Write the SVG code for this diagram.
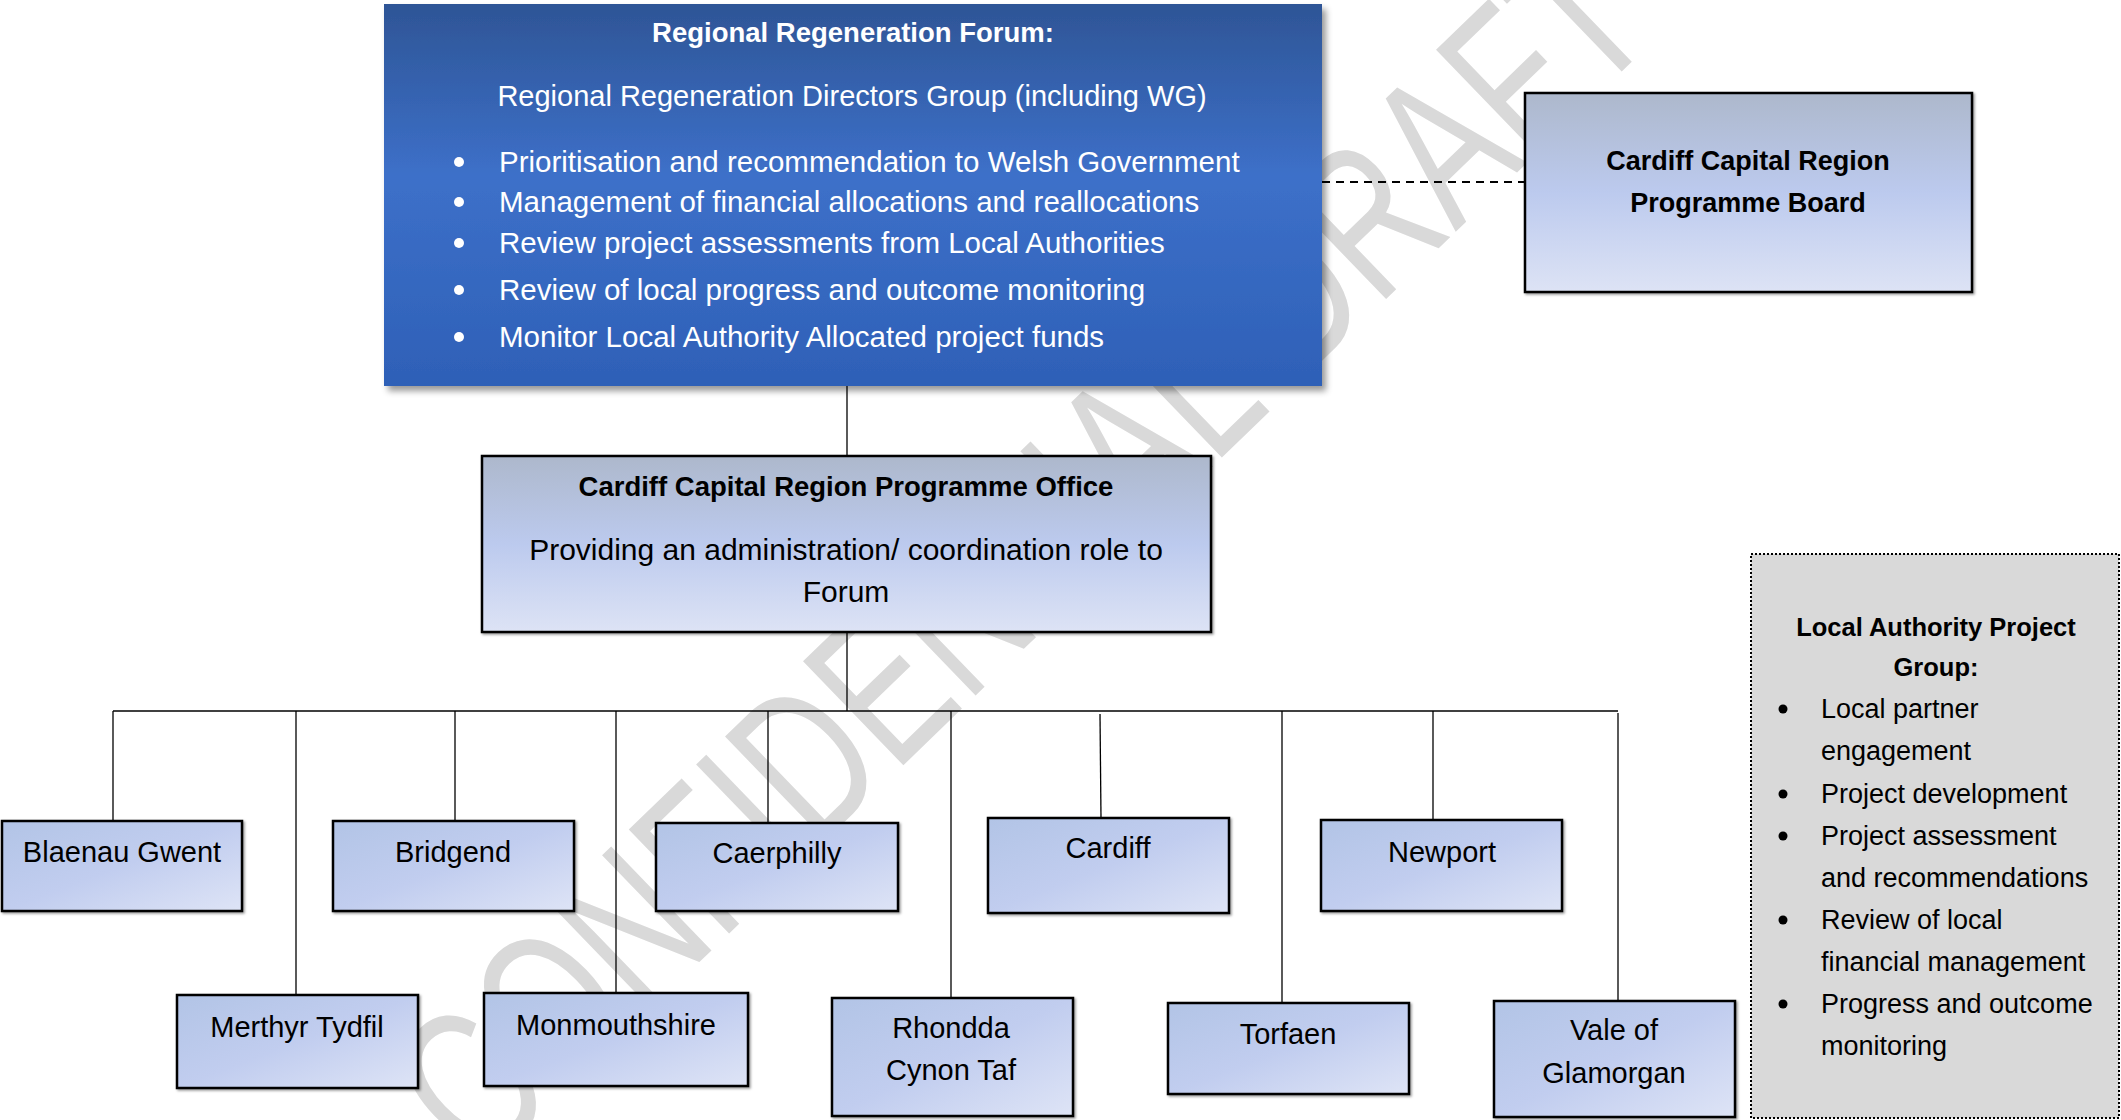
<svg xmlns="http://www.w3.org/2000/svg" width="2121" height="1120" viewBox="0 0 2121 1120">
<defs>
<linearGradient id="gBlue" x1="0" y1="0" x2="0" y2="1">
<stop offset="0" stop-color="#2e5596"/>
<stop offset="0.45" stop-color="#3d70c9"/>
<stop offset="1" stop-color="#2e60b7"/>
</linearGradient>
<linearGradient id="gHead" x1="0" y1="0" x2="0" y2="1">
<stop offset="0" stop-color="#adb8cc"/>
<stop offset="0.5" stop-color="#bccaee"/>
<stop offset="1" stop-color="#dde3f5"/>
</linearGradient>
<linearGradient id="gLeaf" x1="0" y1="0" x2="1" y2="1">
<stop offset="0" stop-color="#b2c4e6"/>
<stop offset="0.5" stop-color="#c1cdef"/>
<stop offset="1" stop-color="#dee4f6"/>
</linearGradient>
<filter id="sh" x="-5%" y="-5%" width="112%" height="115%">
<feDropShadow dx="4" dy="5" stdDeviation="3" flood-color="#000" flood-opacity="0.4"/>
</filter>
<filter id="sh2" x="-5%" y="-5%" width="110%" height="115%">
<feDropShadow dx="1.5" dy="1.5" stdDeviation="0.8" flood-color="#000" flood-opacity="0.4"/>
</filter>
</defs>
<style>
text { font-family: "Liberation Sans", Arial, sans-serif; }
.wm { fill: #d9d9d9; font-size: 210px; }
.box { stroke: #000; stroke-width: 2.5; }
.leaf { fill: url(#gLeaf); stroke: #000; stroke-width: 2.5; filter: url(#sh2); }
.head { fill: url(#gHead); stroke: #000; stroke-width: 2.5; filter: url(#sh2); }
.t29 { font-size: 29px; fill: #000; }
.c { text-anchor: middle; }
.w { fill: #fff; }
.b { font-weight: bold; }
.la { font-size: 27px; fill: #000; }
.lab { font-size: 25.5px; font-weight: bold; fill: #000; text-anchor: middle; }
.conn line { stroke: #000; stroke-width: 1.3; }
</style>

<text class="wm" x="480" y="1174" transform="rotate(-44 480 1174)" textLength="1640" lengthAdjust="spacingAndGlyphs">CONFIDENTIAL DRAFT</text>

<g id="connectors" class="conn">
<line x1="847" y1="386" x2="847" y2="456"/>
<line x1="1322" y1="182" x2="1525" y2="182" stroke-dasharray="8 6" style="stroke-width:1.8"/>
<line x1="847" y1="632" x2="847" y2="711"/>
<line x1="113" y1="711" x2="1618" y2="711"/>
<line x1="113" y1="711" x2="113" y2="821"/>
<line x1="296" y1="711" x2="296" y2="995"/>
<line x1="455" y1="711" x2="455" y2="821"/>
<line x1="616" y1="711" x2="616" y2="993"/>
<line x1="768" y1="711" x2="768" y2="823"/>
<line x1="951" y1="711" x2="951" y2="998"/>
<line x1="1100" y1="714" x2="1101" y2="818"/>
<line x1="1282" y1="711" x2="1282" y2="1003"/>
<line x1="1433" y1="711" x2="1433" y2="820"/>
<line x1="1618" y1="713" x2="1618" y2="1001"/>
</g>

<g id="forum">
<rect x="384" y="4" width="938" height="382" fill="url(#gBlue)" filter="url(#sh)"/>
<text class="w b c" x="853" y="42" style="font-size:27.5px">Regional Regeneration Forum:</text>
<text class="w c" x="852" y="106" style="font-size:29px">Regional Regeneration Directors Group (including WG)</text>
<g fill="#fff">
<circle cx="459" cy="162" r="5"/>
<circle cx="459" cy="202" r="5"/>
<circle cx="459" cy="243" r="5"/>
<circle cx="459" cy="290" r="5"/>
<circle cx="459" cy="337" r="5"/>
</g>
<g class="w" style="font-size:29.5px">
<text x="499" y="172">Prioritisation and recommendation to Welsh Government</text>
<text x="499" y="212">Management of financial allocations and reallocations</text>
<text x="499" y="253">Review project assessments from Local Authorities</text>
<text x="499" y="300">Review of local progress and outcome monitoring</text>
<text x="499" y="347">Monitor Local Authority Allocated project funds</text>
</g>
</g>

<g id="board">
<rect class="head" x="1525" y="93" width="447" height="199"/>
<text class="t29 b c" x="1748" y="170" style="font-size:27px">Cardiff Capital Region</text>
<text class="t29 b c" x="1748" y="212" style="font-size:27px">Programme Board</text>
</g>

<g id="office">
<rect class="head" x="482" y="456" width="729" height="176"/>
<text class="t29 b c" x="846" y="496" style="font-size:27.5px">Cardiff Capital Region Programme Office</text>
<text class="t29 c" x="846" y="560" style="font-size:30px">Providing an administration/ coordination role to</text>
<text class="t29 c" x="846" y="602" style="font-size:30px">Forum</text>
</g>

<g id="blaenau-gwent">
<rect class="leaf" x="2" y="821" width="240" height="90"/>
<text class="t29 c" x="122" y="862">Blaenau Gwent</text>
</g>
<g id="bridgend">
<rect class="leaf" x="333" y="821" width="241" height="90"/>
<text class="t29 c" x="453" y="862">Bridgend</text>
</g>
<g id="caerphilly">
<rect class="leaf" x="656" y="823" width="242" height="88"/>
<text class="t29 c" x="777" y="863">Caerphilly</text>
</g>
<g id="cardiff">
<rect class="leaf" x="988" y="818" width="241" height="95"/>
<text class="t29 c" x="1108" y="858">Cardiff</text>
</g>
<g id="newport">
<rect class="leaf" x="1321" y="820" width="241" height="91"/>
<text class="t29 c" x="1442" y="862">Newport</text>
</g>
<g id="merthyr-tydfil">
<rect class="leaf" x="177" y="995" width="241" height="93"/>
<text class="t29 c" x="297" y="1037">Merthyr Tydfil</text>
</g>
<g id="monmouthshire">
<rect class="leaf" x="484" y="993" width="264" height="93"/>
<text class="t29 c" x="616" y="1035">Monmouthshire</text>
</g>
<g id="rhondda-cynon-taf">
<rect class="leaf" x="832" y="998" width="241" height="118"/>
<text class="t29 c" x="951" y="1038">Rhondda</text>
<text class="t29 c" x="951" y="1080">Cynon Taf</text>
</g>
<g id="torfaen">
<rect class="leaf" x="1168" y="1003" width="241" height="91"/>
<text class="t29 c" x="1288" y="1044">Torfaen</text>
</g>
<g id="vale-of-glamorgan">
<rect class="leaf" x="1494" y="1001" width="241" height="116"/>
<text class="t29 c" x="1614" y="1040">Vale of</text>
<text class="t29 c" x="1614" y="1083">Glamorgan</text>
</g>

<g id="local-authority-project-group">
<rect x="1751" y="554" width="368" height="564" fill="#d9d9d9" stroke="#000" stroke-width="2" stroke-dasharray="2 2"/>
<text class="lab" x="1936" y="636">Local Authority Project</text>
<text class="lab" x="1936" y="676">Group:</text>
<g fill="#000">
<circle cx="1783" cy="709" r="4.5"/>
<circle cx="1783" cy="794" r="4.5"/>
<circle cx="1783" cy="836" r="4.5"/>
<circle cx="1783" cy="920" r="4.5"/>
<circle cx="1783" cy="1004" r="4.5"/>
</g>
<text class="la" x="1821" y="718">Local partner</text>
<text class="la" x="1821" y="760">engagement</text>
<text class="la" x="1821" y="803">Project development</text>
<text class="la" x="1821" y="845">Project assessment</text>
<text class="la" x="1821" y="887">and recommendations</text>
<text class="la" x="1821" y="929">Review of local</text>
<text class="la" x="1821" y="971">financial management</text>
<text class="la" x="1821" y="1013">Progress and outcome</text>
<text class="la" x="1821" y="1055">monitoring</text>
</g>
</svg>
